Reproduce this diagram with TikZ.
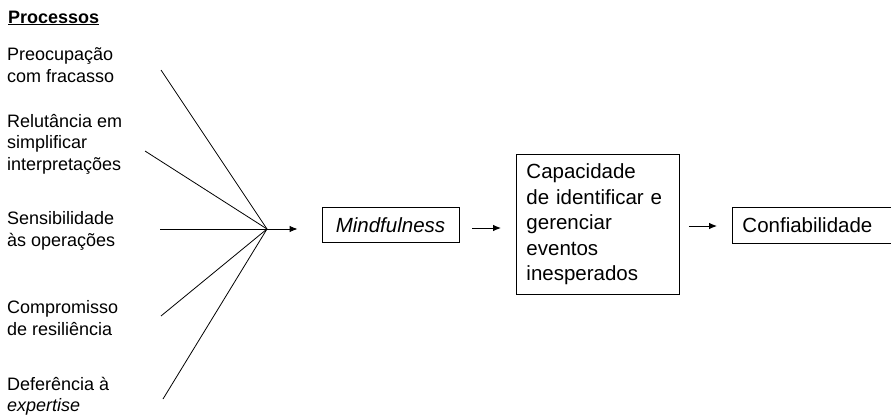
\documentclass[tikz,border=0pt]{standalone}
\usepackage{fontspec}
\setmainfont{Liberation Sans}
\usetikzlibrary{arrows.meta}
\begin{document}
\begin{tikzpicture}[x=1pt,y=-1pt,
  lbl/.style={anchor=west,align=left,inner sep=0pt,font=\fontsize{18}{21.5}\selectfont},
  boxlbl/.style={draw,line width=0.9pt,font=\fontsize{20.5}{25.5}\selectfont},
  link/.style={line width=0.8pt},
  arr/.style={line width=0.9pt,-{Latex[length=8pt,width=6.5pt]}}]
\useasboundingbox (0,0) rectangle (891,417);
\node[lbl,font=\bfseries\fontsize{18}{21.5}\selectfont] (proc) at (8,18) {\underline{Processos}};
\node[lbl] (p1) at (7,65) {Preocupação\\com fracasso};
\node[lbl] (p2) at (7,144) {Relutância em\\simplificar\\interpretações};
\node[lbl] (p3) at (7,231) {Sensibilidade\\às operações};
\node[lbl] (p4) at (7,318) {Compromisso\\de resiliência};
\node[lbl] (p5) at (7,396) {Deferência à\\\textit{expertise}};
\coordinate (s1) at (161,70);
\coordinate (s2) at (145,151);
\coordinate (s3) at (160,229);
\coordinate (s4) at (161,316);
\coordinate (s5) at (163,399);
\coordinate (hub) at (267,229);
\foreach \s in {s1,s2,s3,s4,s5} \draw[link] (\s) -- (hub);
\node[boxlbl,minimum width=137pt,minimum height=35pt,inner sep=0pt] (mind) at (390.5,225) {\itshape Mindfulness};
\node[boxlbl,anchor=north west,text width=143pt,align=left,inner xsep=10pt,inner ysep=0pt,minimum height=140pt] (cap) at (516,154) {Capacidade\\de identificar e\\gerenciar\\eventos\\inesperados};
\node[boxlbl,anchor=west,text width=160pt,align=left,inner xsep=10pt,inner ysep=0pt,minimum height=36pt] (conf) at (732,225) {Confiabilidade};
\draw[arr,shorten >=24pt] (hub) -- (mind.west |- hub);
\draw[arr,shorten <=13pt,shorten >=15pt] (mind.east |- 0,228) -- (cap.west |- 0,228);
\draw[arr,shorten <=9pt,shorten >=15pt] (cap.east |- 0,226) -- (conf.west |- 0,226);
\end{tikzpicture}
\end{document}
